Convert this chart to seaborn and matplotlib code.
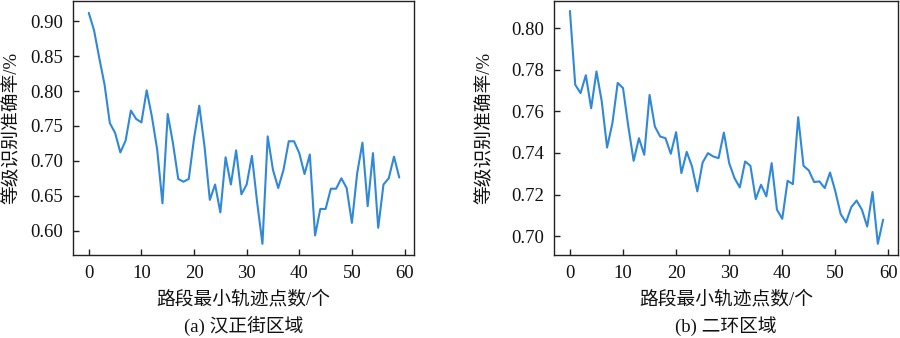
import matplotlib
matplotlib.use("Agg")
import matplotlib.pyplot as plt
import seaborn as sns
import numpy as np
import pandas as pd

# ---- data ----
min_points = list(range(60))
acc_hanzheng = [0.912, 0.887, 0.847, 0.809, 0.754, 0.740, 0.712, 0.729, 0.772, 0.760,
                0.755, 0.801, 0.763, 0.716, 0.639, 0.767, 0.725, 0.674, 0.670, 0.674,
                0.732, 0.779, 0.720, 0.644, 0.666, 0.626, 0.705, 0.666, 0.715, 0.652,
                0.666, 0.707, 0.640, 0.581, 0.735, 0.687, 0.661, 0.687, 0.728, 0.728,
                0.711, 0.681, 0.709, 0.593, 0.631, 0.631, 0.660, 0.660, 0.675, 0.661,
                0.611, 0.682, 0.726, 0.635, 0.711, 0.604, 0.666, 0.675, 0.706, 0.676]
acc_erhuan = [0.8083, 0.7728, 0.7688, 0.7774, 0.7615, 0.7792, 0.7647, 0.7426, 0.7543, 0.7737,
              0.7712, 0.7527, 0.7362, 0.7471, 0.7391, 0.7679, 0.7527, 0.7479, 0.7471, 0.7396,
              0.7500, 0.7303, 0.7405, 0.7335, 0.7215, 0.7354, 0.7399, 0.7383, 0.7375, 0.7498,
              0.7351, 0.7279, 0.7234, 0.7359, 0.7338, 0.7178, 0.7247, 0.7191, 0.7351, 0.7127,
              0.7083, 0.7266, 0.7250, 0.7572, 0.7338, 0.7316, 0.7260, 0.7263, 0.7231, 0.7306,
              0.7215, 0.7106, 0.7066, 0.7139, 0.7171, 0.7127, 0.7046, 0.7212, 0.6963, 0.7079]
x_ticks = [0, 10, 20, 30, 40, 50, 60]
yticks_a = [0.60, 0.65, 0.70, 0.75, 0.80, 0.85, 0.90]
yticks_b = [0.70, 0.72, 0.74, 0.76, 0.78, 0.80]
xlabel = "路段最小轨迹点数/个"
ylabel = "等级识别准确率/%"
captions = ["(a) 汉正街区域", "(b) 二环区域"]

sns.set_theme(style="ticks")
plt.rcParams['font.family'] = ['Liberation Serif', 'Noto Sans CJK SC']
plt.rcParams['axes.unicode_minus'] = False

fig = plt.figure(figsize=(9, 3.38), dpi=100)
ax_a = fig.add_axes([73/900, (338-255)/338, 341/900, 254/338])
ax_b = fig.add_axes([554/900, (338-255)/338, 344/900, 254/338])

color = "#2f88d8"
text_color = "#111111"
fs = 13.5
specs = [
    (ax_a, acc_hanzheng, yticks_a, (0.565, 0.929), -0.179),
    (ax_b, acc_erhuan, yticks_b, (0.6909, 0.8131), -0.20),
]
for (ax, vals, yt, ylim, ylab_x), cap in zip(specs, captions):
    df = pd.DataFrame({"x": min_points, "y": vals})
    sns.lineplot(data=df, x="x", y="y", ax=ax, color=color, linewidth=1.5)
    ax.set_xlim(-3.0, 61.8)
    ax.set_ylim(*ylim)
    ax.set_xticks(x_ticks)
    ax.set_xticklabels([str(t) for t in x_ticks])
    ax.set_yticks(yt)
    ax.set_yticklabels(["{:.2f}".format(t) for t in yt])
    ax.tick_params(direction="in", length=4, width=1, labelsize=fs, pad=7,
                   colors="#222222", labelcolor=text_color)
    for s in ax.spines.values():
        s.set_linewidth(1.0)
        s.set_color("#222222")
    ax.set_xlabel("")
    ax.set_ylabel("")
    ax.text(0.5, (255 - 300) / 254, xlabel, transform=ax.transAxes, ha="center",
            va="center", fontsize=fs, color=text_color)
    ax.text(0.5, (255 - 326) / 254, cap, transform=ax.transAxes, ha="center",
            va="center", fontsize=fs, color=text_color)
    ax.text(ylab_x, 0.5, ylabel, transform=ax.transAxes, ha="center", va="center",
            rotation=90, fontsize=fs, color=text_color)

fig.savefig("out.png", dpi=100)
